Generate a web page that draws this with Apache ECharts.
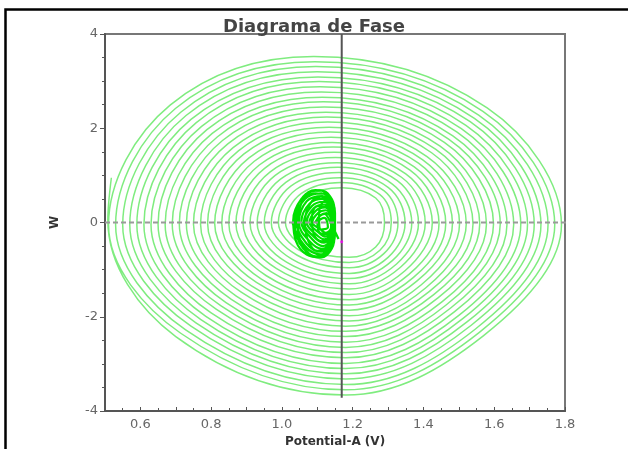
<!DOCTYPE html>
<html><head><meta charset="utf-8">
<script src="https://cdn.jsdelivr.net/npm/echarts@6/dist/echarts.min.js"></script>
<style>html,body{margin:0;padding:0;background:#fff}#c{width:628px;height:449px}</style>
</head><body><div id="c"></div>
<script>
// ring crossings of the phase-plane spiral, innermost loop first
const leftX  = [1.03,1.01,0.99,0.97,0.95,0.93,0.91,0.89,0.87,0.85,0.83,0.81,0.79,0.77,0.75,0.73,0.71,0.69,0.67,0.65,0.63,0.61,0.59,0.57,0.55,0.53,0.51];
const midY   = [0,0,0,-0.01,-0.01,-0.01,-0.01,-0.01,-0.02,-0.02,-0.02,-0.02,-0.02,-0.03,-0.03,-0.03,-0.03,-0.03,-0.04,-0.04,-0.04,-0.04,-0.04,-0.05,-0.05,-0.05,-0.05];
const ulX    = [1.070,1.055,1.040,1.025,1.011,0.996,0.981,0.966,0.951,0.936,0.922,0.907,0.892,0.877,0.862,0.847,0.832,0.818,0.803,0.788,0.773,0.758,0.743,0.729,0.714,0.699,0.684];
const ulY    = [0.55,0.62,0.70,0.77,0.85,0.92,1.00,1.07,1.15,1.22,1.30,1.37,1.45,1.52,1.59,1.67,1.74,1.82,1.89,1.97,2.04,2.12,2.19,2.27,2.34,2.42,2.49];
const topX   = [1.170,1.167,1.164,1.161,1.158,1.155,1.151,1.148,1.145,1.142,1.139,1.136,1.133,1.130,1.127,1.124,1.120,1.117,1.114,1.111,1.108,1.105,1.102,1.099,1.096,1.093,1.090];
const topY   = [0.74,0.85,0.95,1.06,1.17,1.27,1.38,1.49,1.60,1.70,1.81,1.92,2.02,2.13,2.24,2.34,2.45,2.56,2.66,2.77,2.88,2.99,3.09,3.20,3.31,3.41,3.52];
const urX    = [1.265,1.277,1.289,1.301,1.313,1.326,1.338,1.350,1.362,1.374,1.386,1.398,1.410,1.423,1.435,1.447,1.459,1.471,1.483,1.495,1.507,1.520,1.532,1.544,1.556,1.568,1.580];
const urY    = [0.52,0.59,0.67,0.74,0.81,0.89,0.96,1.03,1.11,1.18,1.26,1.33,1.40,1.48,1.55,1.62,1.70,1.77,1.84,1.92,1.99,2.06,2.14,2.21,2.28,2.36,2.43];
const rightX = [1.290,1.309,1.328,1.348,1.367,1.386,1.405,1.425,1.444,1.463,1.482,1.502,1.521,1.540,1.559,1.578,1.598,1.617,1.636,1.655,1.675,1.694,1.713,1.732,1.752,1.771,1.790];
const lrX    = [1.265,1.277,1.288,1.300,1.312,1.324,1.335,1.347,1.359,1.371,1.382,1.394,1.406,1.417,1.429,1.441,1.453,1.464,1.476,1.488,1.500,1.511,1.523,1.535,1.547,1.558,1.570];
const lrY    = [-0.52,-0.59,-0.66,-0.74,-0.81,-0.88,-0.95,-1.03,-1.10,-1.17,-1.24,-1.32,-1.39,-1.46,-1.53,-1.60,-1.68,-1.75,-1.82,-1.89,-1.97,-2.04,-2.11,-2.18,-2.26,-2.33,-2.40];
const botX   = [1.19,1.19,1.19,1.19,1.19,1.19,1.19,1.19,1.19,1.19,1.19,1.19,1.19,1.18,1.18,1.18,1.18,1.18,1.18,1.18,1.18,1.18,1.18,1.18,1.18,1.18,1.18];
const botY   = [-0.74,-0.85,-0.96,-1.08,-1.19,-1.30,-1.41,-1.53,-1.64,-1.75,-1.86,-1.98,-2.09,-2.20,-2.31,-2.42,-2.54,-2.65,-2.76,-2.87,-2.99,-3.10,-3.21,-3.32,-3.44,-3.55,-3.66];
const llX    = [1.070,1.056,1.042,1.027,1.013,0.999,0.985,0.970,0.956,0.942,0.928,0.913,0.899,0.885,0.871,0.857,0.842,0.828,0.814,0.800,0.785,0.771,0.757,0.743,0.728,0.714,0.700];
const llY    = [-0.55,-0.62,-0.69,-0.77,-0.84,-0.91,-0.98,-1.05,-1.13,-1.20,-1.27,-1.34,-1.41,-1.48,-1.56,-1.63,-1.70,-1.77,-1.84,-1.92,-1.99,-2.06,-2.13,-2.20,-2.28,-2.35,-2.42];
const endX   = [0.508, 0.518];
const endY   = [0.05, 0.95];

// dense start-up region of the trajectory (left of the vertical line)
const blobX = [1.16,1.14,1.12,1.10,1.105,1.13,1.145,1.13,1.10,1.085,1.09,1.115,1.14,1.15,1.14,1.11,1.08,1.065,1.075,1.10,1.135,1.15,1.145,1.12,1.08,1.05,1.045,1.06,1.095,1.13,1.15,1.15,1.13,1.095,1.055,1.032,1.04,1.07,1.11,1.14,1.15,1.14,1.12,1.105,1.11,1.13,1.12,
  1.094,1.108,1.126,1.139,1.139,1.124,1.108,
  1.086,1.102,1.124,1.140,1.140,1.122,1.102,
  1.078,1.096,1.122,1.141,1.141,1.120,1.096,
  1.070,1.090,1.120,1.142,1.142,1.118,1.090,
  1.062,1.085,1.118,1.143,1.143,1.116,1.085,
  1.055,1.078,1.116,1.144,1.144,1.114,1.078,
  1.048,1.070,1.114,1.145,1.145,1.112,1.070,
  1.040,1.065,1.112,1.146,1.146,1.110,1.065,
  1.035,1.060,1.110,1.148,1.148,1.110,1.060,
  1.030];
const blobY = [-0.35,-0.05,0.18,0.05,-0.2,-0.25,0.05,0.3,0.35,0.1,-0.25,-0.4,-0.3,0.0,0.4,0.55,0.4,0.0,-0.4,-0.6,-0.5,-0.1,0.35,0.62,0.6,0.3,-0.1,-0.5,-0.72,-0.62,-0.25,0.2,0.6,0.69,0.5,0.05,-0.4,-0.68,-0.74,-0.55,-0.1,0.3,0.45,0.2,-0.15,-0.1,0.1,
  0.00,0.15,0.20,0.05,-0.10,-0.22,-0.14,
  0.00,0.20,0.26,0.08,-0.14,-0.30,-0.20,
  0.00,0.25,0.32,0.10,-0.17,-0.36,-0.25,
  0.00,0.30,0.38,0.12,-0.20,-0.43,-0.30,
  0.00,0.35,0.44,0.15,-0.22,-0.50,-0.35,
  0.02,0.40,0.50,0.18,-0.25,-0.56,-0.40,
  0.00,0.45,0.56,0.20,-0.28,-0.62,-0.45,
  0.05,0.50,0.62,0.25,-0.30,-0.68,-0.50,
  0.00,0.55,0.68,0.30,-0.35,-0.74,-0.55,
  0.00];
const startPoint = [1.169, -0.41];

const vLineX = 1.169, vLineTop = 4, vLineBottom = -3.72;
const hLineY = 0, hLineFrom = 0.5, hLineTo = 1.82;

const spiral = [];
for (let k = 0; k < leftX.length; k++) {
  spiral.push([leftX[k], midY[k]], [ulX[k], ulY[k]], [topX[k], topY[k]], [urX[k], urY[k]],
              [rightX[k], midY[k]], [lrX[k], lrY[k]], [botX[k], botY[k]], [llX[k], llY[k]]);
}
endX.forEach((x, i) => spiral.push([x, endY[i]]));
const blob = blobX.map((x, i) => [x, blobY[i]]);

const FONT = 'DejaVu Sans';
const chart = echarts.init(document.getElementById('c'), null, {renderer: 'canvas'});
chart.setOption({
  animation: false,
  backgroundColor: '#fff',
  title: {
    text: 'Diagrama de Fase', left: 'center', top: 18, padding: 0,
    textStyle: {fontFamily: FONT, fontSize: 18, fontWeight: 'bold', color: '#444'}
  },
  grid: {left: 105, right: 63, top: 34, bottom: 38, outerBoundsMode: 'none', containLabel: false,
         show: true, borderColor: '#777', borderWidth: 2, backgroundColor: 'transparent'},
  xAxis: {
    type: 'value', min: 0.5, max: 1.8, interval: 0.1,
    name: 'Potential-A (V)', nameLocation: 'middle', nameGap: 19,
    nameTextStyle: {fontFamily: FONT, fontSize: 12, fontWeight: 'bold', color: '#333'},
    axisLine: {show: true, onZero: false, lineStyle: {color: '#555', width: 2}},
    axisTick: {show: true, inside: true, length: 4, lineStyle: {color: '#555'}},
    minorTick: {show: true, splitNumber: 2, length: 3, lineStyle: {color: '#555'}},
    splitLine: {show: false},
    axisLabel: {fontFamily: FONT, fontSize: 13, color: '#666', margin: 7,
      formatter: v => (Math.round(v * 10) % 2 === 0 ? v.toFixed(1) : '')}
  },
  yAxis: {
    type: 'value', min: -4, max: 4, interval: 2,
    name: 'W', nameLocation: 'middle', nameGap: 44, nameRotate: 90,
    nameTextStyle: {fontFamily: FONT, fontSize: 12, fontWeight: 'bold', color: '#333'},
    axisLine: {show: true, onZero: false, lineStyle: {color: '#555', width: 2}},
    axisTick: {show: true, inside: false, length: 5, lineStyle: {color: '#555'}},
    minorTick: {show: true, splitNumber: 4, length: 3, lineStyle: {color: '#555'}},
    splitLine: {show: false},
    axisLabel: {fontFamily: FONT, fontSize: 13, color: '#666', margin: 7, padding: [6, 0, 0, 0]}
  },
  graphic: [{
    type: 'polyline', silent: true,
    shape: {points: [[5.5, 449], [5.5, 9.5], [628, 9.5]]},
    style: {stroke: '#000', lineWidth: 2.5, fill: null}
  }],
  series: [
    {type: 'line', data: spiral, symbol: 'none', smooth: 0.37, z: 2,
     lineStyle: {color: '#7fec7f', width: 1.5}},
    {type: 'line', data: blob, symbol: 'none', smooth: 0.4, z: 3,
     lineStyle: {color: '#00e000', width: 2.2}},
    {type: 'line', data: [[hLineFrom, hLineY], [hLineTo, hLineY]], symbol: 'none', clip: false, z: 4,
     lineStyle: {color: '#9a9a9a', width: 2, type: [5, 3]}},
    {type: 'line', data: [[vLineX, vLineTop], [vLineX, vLineBottom]], symbol: 'none', z: 5,
     lineStyle: {color: '#555', width: 2}},
    {type: 'scatter', data: [startPoint], symbolSize: 3, z: 6, itemStyle: {color: '#ff00ff'}}
  ]
});
</script>
</body></html>
